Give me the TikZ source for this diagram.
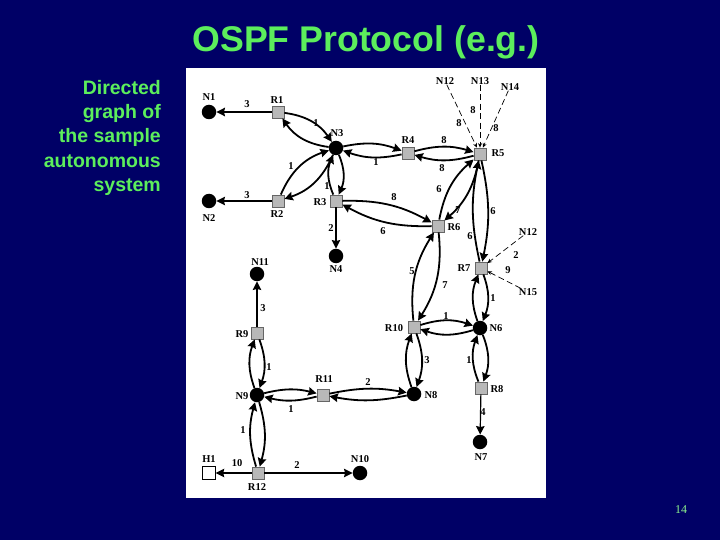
\documentclass[tikz,border=0pt]{standalone}
\usepackage{fontspec}
\setmainfont{Liberation Serif}
\newfontfamily\slidefont{Liberation Sans}
\usetikzlibrary{arrows.meta}
\definecolor{slidebg}{RGB}{0,0,102}
\definecolor{slidegreen}{RGB}{92,238,92}
\tikzset{
    router/.style={draw=black!60, line width=0.3pt, fill=black!28, minimum size=12.5pt, inner sep=0pt},
    network/.style={circle, fill=black, minimum size=14.5pt, inner sep=0pt},
    host/.style={draw=black, line width=0.9pt, fill=white, minimum size=12.5pt, inner sep=0pt},
    tag/.style={font=\bfseries\fontsize{10.5}{11}\selectfont, inner sep=0pt},
    link/.style={line width=1.8pt, -{Stealth[length=8.5pt,width=8.5pt,inset=1pt]}},
    heavylink/.style={line width=2.2pt, -{Stealth[length=8.5pt,width=8.5pt,inset=1pt]}},
    thinlink/.style={line width=1.2pt, -{Stealth[length=8.5pt,width=8.5pt,inset=1pt]}},
    extlink/.style={line width=0.7pt, dash pattern=on 6pt off 3.5pt, -{Stealth[length=4.5pt,width=4pt]}},
}
\begin{document}
\begin{tikzpicture}[x=1pt,y=-1pt]
    \useasboundingbox (0,0) rectangle (720,540);
    \fill[slidebg] (0,0) rectangle (720,540);
    \fill[white] (186,68) rectangle (546,498);

    \node[slidegreen, font=\slidefont\bfseries\fontsize{35.7}{40}\selectfont] (title) at (366,42) {OSPF Protocol (e.g.)};
    \node[slidegreen, font=\slidefont\bfseries\fontsize{19.5}{24.3}\selectfont, align=right, anchor=north east, inner sep=0pt] (side) at (161,80) {Directed\\graph of\\the sample\\autonomous\\system};
    \node[slidegreen!70!white, font=\fontsize{12}{14}\selectfont] (page) at (681,510) {14};

    % routers
    \foreach \name/\x/\y in {R1/278/112, R2/278/201, R3/336/201, R4/408/153, R5/480/154, R6/438/226,
        R7/481/268, R8/481/388, R9/257/333, R10/414/327, R11/323/395, R12/258/473}
        {\node[router] (\name) at (\x,\y) {};}
    % networks
    \foreach \name/\x/\y in {N1/209/112, N2/209/201, N3/336/148, N4/336/256, N6/480/328, N7/480/442,
        N8/414/394, N9/257/395, N10/360/473, N11/257/274}
        {\node[network] (\name) at (\x,\y) {};}
    \node[host] (H1) at (209,473) {};

    % names
    \foreach \name/\x/\y in {N1/209/97, R1/277/100, N3/337/133, R4/408/140, R5/498/153, N2/209/218,
        R2/277/214, R3/320/202, N11/260/262, N4/336/269, R9/242/334, R6/454/227, R7/464/268,
        R10/394/328, N6/496/328, R8/497/389, N7/481/457, N8/431/395, R11/324/379, N9/242/396,
        R12/257/487, H1/209/459, N10/360/459}
        {\node[tag] (tag\name) at (\x,\y) {\name};}
    \node[tag] (N12a) at (445,81) {N12};
    \node[tag] (N13) at (480,81) {N13};
    \node[tag] (N14) at (510,87) {N14};
    \node[tag] (N12b) at (528,232) {N12};
    \node[tag] (N15) at (528,292) {N15};

    % both ways round
    \foreach \a/\b/\ang in {R1/N3/24, N3/R2/24, N3/R3/23, N3/R4/16, R4/R5/16, R3/R6/15, R5/R6/19,
        R5/R7/12, R7/N6/21, N6/R8/21, R10/R6/19, R10/N6/18, R10/N8/20, R11/N8/11, R11/N9/14,
        R9/N9/20, N9/R12/16}
    {
        \draw[link] (\a) to[bend left=\ang] (\b);
        \draw[link] (\b) to[bend left=\ang] (\a);
    }

    % one way only
    \draw[heavylink] (R1) -- (N1);
    \draw[thinlink] (R2) -- (N2);
    \draw[thinlink] (R3) -- (N4);
    \draw[thinlink] (R9) -- (N11);
    \draw[thinlink] (R8) -- (N7);
    \draw[thinlink] (R12) -- (H1);
    \draw[thinlink] (R12) -- (N10);

    % external routes
    \draw[extlink] (N12a) -- (R5);
    \draw[extlink] (N13) -- (R5);
    \draw[extlink] (N14) -- (R5);
    \draw[extlink] (N12b) -- (R7);
    \draw[extlink] (N15) -- (R7);

    % costs
    \foreach \val/\x/\y [count=\i] in {3/247/104, 3/247/195, 1/316/123, 1/291/166, 1/327/186, 1/376/162,
        8/444/140, 8/442/168, 8/394/197, 6/383/231, 6/439/189, 7/458/210, 6/493/211, 6/470/236,
        2/516/255, 9/508/270, 1/493/298, 5/412/271, 7/445/285, 1/446/316, 3/427/360, 1/469/360,
        4/483/412, 2/368/382, 1/291/409, 1/269/367, 3/263/308, 1/243/430, 10/237/463, 2/297/465,
        2/331/228, 8/459/123, 8/473/110, 8/496/128}
        {\node[tag] (cost\i) at (\x,\y) {\val};}
\end{tikzpicture}
\end{document}
